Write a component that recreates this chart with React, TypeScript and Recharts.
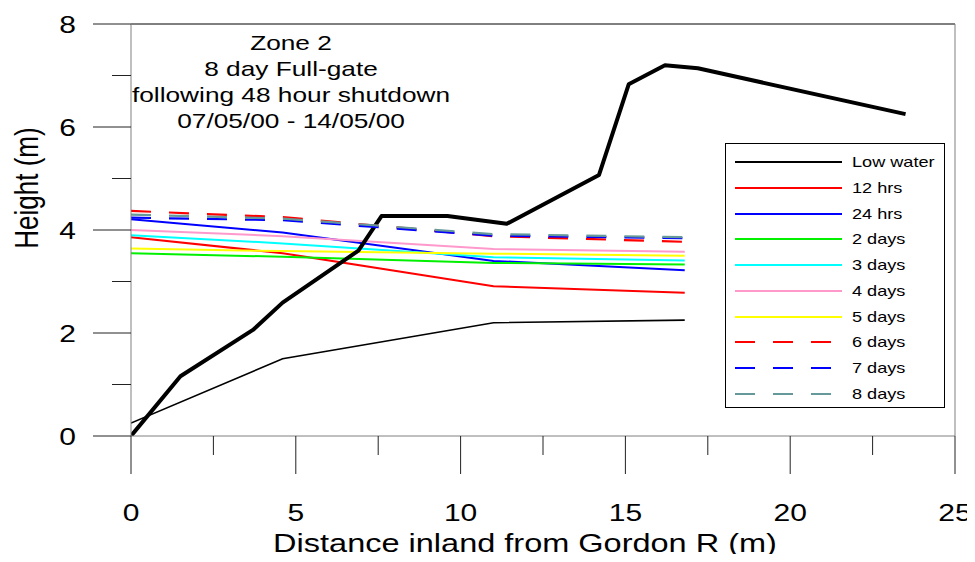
import React from "react";
import {
  LineChart,
  Line,
  XAxis,
  YAxis,
  ReferenceLine,
  Legend,
  Customized,
} from "recharts";

// distances (m) where water levels were read
const waterX = [0, 4.6, 11, 16.8];

const lowWater = [0.25, 1.5, 2.2, 2.25];
const hrs12 = [3.86, 3.55, 2.91, 2.78];
const hrs24 = [4.21, 3.95, 3.4, 3.22];
const days2 = [3.55, 3.48, 3.36, 3.33];
const days3 = [3.9, 3.74, 3.47, 3.41];
const days4 = [4.0, 3.88, 3.63, 3.58];
const days5 = [3.64, 3.59, 3.54, 3.5];
const days6 = [4.37, 4.25, 3.88, 3.77];
const days7 = [4.24, 4.19, 3.89, 3.84];
const days8 = [4.3, 4.22, 3.92, 3.86];

// bank profile (thick line)
const groundX = [0, 1.5, 3.7, 4.6, 6.9, 7.6, 9.6, 11.4, 14.2, 15.1, 16.2, 17.2, 23.5];
const groundY = [0, 1.16, 2.06, 2.59, 3.6, 4.27, 4.27, 4.12, 5.07, 6.83, 7.2, 7.14, 6.25];

const xTicks = [0, 2.5, 5, 7.5, 10, 12.5, 15, 17.5, 20, 22.5, 25];
const yTicks = [0, 1, 2, 3, 4, 5, 6, 7, 8];

const titleLines = [
  "Zone 2",
  "8 day Full-gate",
  "following 48 hour shutdown",
  "07/05/00 - 14/05/00",
];

const FONT = "'Liberation Sans', Arial, sans-serif";
const STRETCH = 1.25;
const DASH = "20 18";

const solidSeries = [
  { name: "Low water", values: lowWater, color: "#000000", width: 1.6 },
  { name: "12 hrs", values: hrs12, color: "#FF0000", width: 2 },
  { name: "24 hrs", values: hrs24, color: "#0000FF", width: 2 },
  { name: "2 days", values: days2, color: "#00F000", width: 2 },
  { name: "3 days", values: days3, color: "#00FFFF", width: 2 },
  { name: "4 days", values: days4, color: "#FF99CC", width: 2 },
  { name: "5 days", values: days5, color: "#FFFF00", width: 2 },
];

const dashedSeries = [
  { name: "6 days", values: days6, color: "#FF0000", width: 2.2 },
  { name: "7 days", values: days7, color: "#0000FF", width: 2.2 },
  { name: "8 days", values: days8, color: "#669999", width: 2.2 },
];

const toPoints = (xs: number[], ys: number[]) =>
  xs.map((x, i) => ({ x, y: ys[i] }));

const groundData = toPoints(groundX, groundY);

function XTick(props: any) {
  const { x, y, payload } = props;
  const major = payload.value % 5 === 0;
  return (
    <g>
      <line x1={x} y1={y} x2={x} y2={y + (major ? 38 : 19)} stroke="#222" />
      {major && (
        <text
          transform={`translate(${x},${y + 85}) scale(${STRETCH},1)`}
          textAnchor="middle"
          fontSize={24}
          fontFamily={FONT}
          fill="#000"
        >
          {payload.value}
        </text>
      )}
    </g>
  );
}

function YTick(props: any) {
  const { x, y, payload } = props;
  const major = payload.value % 2 === 0;
  return (
    <g>
      <line x1={x - (major ? 38 : 19)} y1={y} x2={x} y2={y} stroke="#222" />
      {major && (
        <text
          transform={`translate(${x - 55},${y + 8.6}) scale(${STRETCH},1)`}
          textAnchor="end"
          fontSize={24}
          fontFamily={FONT}
          fill="#000"
        >
          {payload.value}
        </text>
      )}
    </g>
  );
}

function Texts() {
  return (
    <g fontFamily={FONT} fill="#000">
      {titleLines.map((t, i) => (
        <text
          key={t}
          transform={`translate(283,${41.5 + i * 26.3}) scale(${STRETCH},1)`}
          textAnchor="middle"
          fontSize={21}
        >
          {t}
        </text>
      ))}
      <text
        transform={`translate(517,544) scale(${STRETCH},1)`}
        textAnchor="middle"
        fontSize={26}
      >
        Distance inland from Gordon R (m)
      </text>
      <text
        transform={`translate(30,180) scale(${STRETCH},1) rotate(-90)`}
        textAnchor="middle"
        fontSize={26}
      >
        Height (m)
      </text>
    </g>
  );
}

const legendItems = [
  ...solidSeries.map((s) => ({ ...s, dashed: false })),
  ...dashedSeries.map((s) => ({ ...s, dashed: true })),
];

function LegendBox() {
  return (
    <div
      style={{
        position: "relative",
        width: 220,
        height: 265,
        boxSizing: "border-box",
        border: "1px solid #000",
        background: "#fff",
        fontFamily: FONT,
      }}
    >
      {legendItems.map((s, i) => {
        const cy = 18 + i * 25.75;
        return (
          <div key={s.name}>
            <svg
              width={108}
              height={6}
              style={{ position: "absolute", left: 9, top: cy - 3 }}
            >
              <line
                x1={0}
                y1={3}
                x2={107}
                y2={3}
                stroke={s.color}
                strokeWidth={1.8}
                strokeDasharray={s.dashed ? DASH : undefined}
              />
            </svg>
            <span
              style={{
                position: "absolute",
                left: 126,
                top: cy - 9,
                fontSize: 14.5,
                lineHeight: "18px",
                whiteSpace: "nowrap",
                transform: `scaleX(${STRETCH})`,
                transformOrigin: "left center",
              }}
            >
              {s.name}
            </span>
          </div>
        );
      })}
    </div>
  );
}

export default function App() {
  return (
    <div style={{ width: 967, height: 554, marginBottom: -8, marginRight: -8 }}>
      <LineChart
        width={967}
        height={554}
        margin={{ top: 16, right: 20, left: 0, bottom: 0 }}
      >
        <XAxis
          type="number"
          dataKey="x"
          domain={[0, 25]}
          ticks={xTicks}
          interval={0}
          tickSize={0}
          tickMargin={0}
          tickLine={false}
          tick={<XTick />}
          axisLine={{ stroke: "#808080" }}
          height={126}
          allowDataOverflow
        />
        <YAxis
          type="number"
          domain={[0, 8]}
          ticks={yTicks}
          interval={0}
          tickSize={0}
          tickMargin={0}
          tickLine={false}
          tick={<YTick />}
          axisLine={{ stroke: "#808080" }}
          width={123}
          allowDataOverflow
        />
        <ReferenceLine y={8} stroke="#000" />
        <ReferenceLine x={25} stroke="#808080" />
        {solidSeries.map((s) => (
          <Line
            key={s.name}
            name={s.name}
            data={toPoints(waterX, s.values)}
            dataKey="y"
            type="linear"
            stroke={s.color}
            strokeWidth={s.width}
            dot={false}
            activeDot={false}
            isAnimationActive={false}
          />
        ))}
        <Line
          name="Bank profile"
          data={groundData}
          dataKey="y"
          type="linear"
          stroke="#000"
          strokeWidth={4}
          strokeLinejoin="round"
          dot={false}
          activeDot={false}
          legendType="none"
          isAnimationActive={false}
        />
        {dashedSeries.map((s) => (
          <Line
            key={s.name}
            name={s.name}
            data={toPoints(waterX, s.values)}
            dataKey="y"
            type="linear"
            stroke={s.color}
            strokeWidth={s.width}
            strokeDasharray={DASH}
            dot={false}
            activeDot={false}
            isAnimationActive={false}
          />
        ))}
        <Customized component={Texts} />
        <Legend
          layout="vertical"
          align="center"
          verticalAlign="middle"
          wrapperStyle={{ left: 717, top: 135, width: 220, height: 265 }}
          content={() => <LegendBox />}
        />
      </LineChart>
    </div>
  );
}
